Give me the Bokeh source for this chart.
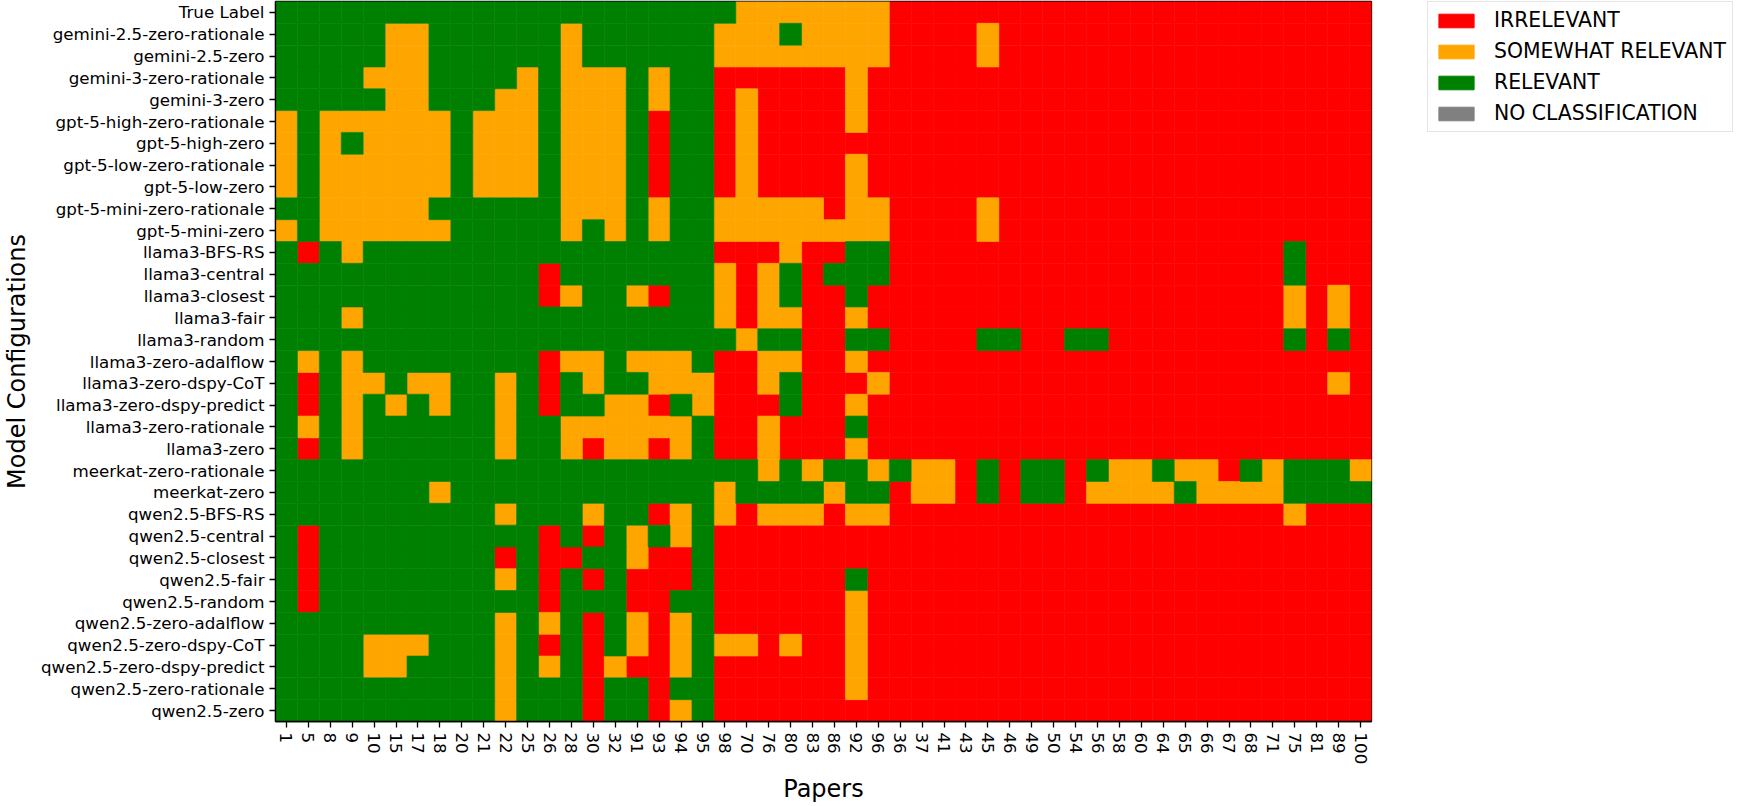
from bokeh.plotting import figure
from bokeh.models import ColumnDataSource, FactorRange, Legend, LegendItem, Range1d
from bokeh.layouts import row
from bokeh.embed import file_html
from bokeh.resources import INLINE

# ---------------- data ----------------
papers = ["1", "5", "8", "9", "10", "15", "17", "18", "20", "21", "22", "25", "26", "28",
          "30", "32", "91", "93", "94", "95", "98", "70", "76", "80", "83", "86", "92", "96",
          "36", "37", "41", "43", "45", "46", "49", "50", "54", "56", "58", "60", "64", "65",
          "66", "67", "68", "71", "75", "81", "89", "100"]

# codes: G = RELEVANT, O = SOMEWHAT RELEVANT, R = IRRELEVANT, N = NO CLASSIFICATION
true_label_names = ["True Label"]
true_label_rows = [
    "GGGGGGGGGG GGGGGGGGGG GOOOOOOORR RRRRRRRRRR RRRRRRRRRR",
]

gemini_names = ["gemini-2.5-zero-rationale", "gemini-2.5-zero",
                "gemini-3-zero-rationale", "gemini-3-zero"]
gemini_rows = [
    "GGGGGOOGGG GGGOGGGGGG OOOGOOOORR RRORRRRRRR RRRRRRRRRR",
    "GGGGGOOGGG GGGOGGGGGG OOOOOOOORR RRORRRRRRR RRRRRRRRRR",
    "GGGGOOOGGG GOGOOOGOGG RRRRRRORRR RRRRRRRRRR RRRRRRRRRR",
    "GGGGGOOGGG OOGOOOGOGG RORRRRORRR RRRRRRRRRR RRRRRRRRRR",
]

gpt5_names = ["gpt-5-high-zero-rationale", "gpt-5-high-zero",
              "gpt-5-low-zero-rationale", "gpt-5-low-zero",
              "gpt-5-mini-zero-rationale", "gpt-5-mini-zero"]
gpt5_rows = [
    "OGOOOOOOGO OOGOOOGRGG RORRRRORRR RRRRRRRRRR RRRRRRRRRR",
    "OGOGOOOOGO OOGOOOGRGG RORRRRRRRR RRRRRRRRRR RRRRRRRRRR",
    "OGOOOOOOGO OOGOOOGRGG RORRRRORRR RRRRRRRRRR RRRRRRRRRR",
    "OGOOOOOOGO OOGOOOGRGG RORRRRORRR RRRRRRRRRR RRRRRRRRRR",
    "GGOOOOOGGG GGGOOOGOGG OOOOOROORR RRORRRRRRR RRRRRRRRRR",
    "OGOOOOOOGG GGGOGOGOGG OOOOOOOORR RRORRRRRRR RRRRRRRRRR",
]

llama3_names = ["llama3-BFS-RS", "llama3-central", "llama3-closest", "llama3-fair",
                "llama3-random", "llama3-zero-adalflow", "llama3-zero-dspy-CoT",
                "llama3-zero-dspy-predict", "llama3-zero-rationale", "llama3-zero"]
llama3_rows = [
    "GRGOGGGGGG GGGGGGGGGG RRRORRGGRR RRRRRRRRRR RRRRRRGRRR",
    "GGGGGGGGGG GGRGGGGGGG OROGRGGGRR RRRRRRRRRR RRRRRRGRRR",
    "GGGGGGGGGG GGROGGORGG OROGRRGRRR RRRRRRRRRR RRRRRROROR",
    "GGGOGGGGGG GGGGGGGGGG OROORRORRR RRRRRRRRRR RRRRRROROR",
    "GGGGGGGGGG GGGGGGGGGG GOGGRRGGRR RRGGRRGGRR RRRRRRGRGR",
    "GOGOGGGGGG GGROOGOOOG RROORRORRR RRRRRRRRRR RRRRRRRRRR",
    "GRGOOGOOGG OGRGOGGOOO RROGRRRORR RRRRRRRRRR RRRRRRRROR",
    "GRGOGOGOGG OGRGGOORGO RRRGRRORRR RRRRRRRRRR RRRRRRRRRR",
    "GOGOGGGGGG OGGOOOOOOG RRORRRGRRR RRRRRRRRRR RRRRRRRRRR",
    "GRGOGGGGGG OGGOROOROG RRORRRORRR RRRRRRRRRR RRRRRRRRRR",
]

meerkat_names = ["meerkat-zero-rationale", "meerkat-zero"]
meerkat_rows = [
    "GGGGGGGGGG GGGGGGGGGG GGOGOGGOGO ORGRGGRGOO GOORGOGGGO",
    "GGGGGGGOGG GGGGGGGGGG OGGGGOGGRO ORGRGGROOO OGOOOOGGGG",
]

qwen_names = ["qwen2.5-BFS-RS", "qwen2.5-central", "qwen2.5-closest", "qwen2.5-fair",
              "qwen2.5-random", "qwen2.5-zero-adalflow", "qwen2.5-zero-dspy-CoT",
              "qwen2.5-zero-dspy-predict", "qwen2.5-zero-rationale", "qwen2.5-zero"]
qwen_rows = [
    "GGGGGGGGGG OGGGOGGROG OROOOROORR RRRRRRRRRR RRRRRRORRR",
    "GRGGGGGGGG GGRGRGOGOG RRRRRRRRRR RRRRRRRRRR RRRRRRRRRR",
    "GRGGGGGGGG RGRRGGORRG RRRRRRRRRR RRRRRRRRRR RRRRRRRRRR",
    "GRGGGGGGGG OGRGRGRRRG RRRRRRGRRR RRRRRRRRRR RRRRRRRRRR",
    "GRGGGGGGGG GGRGGGRRGG RRRRRRORRR RRRRRRRRRR RRRRRRRRRR",
    "GGGGGGGGGG OGOGRGOROG RRRRRRORRR RRRRRRRRRR RRRRRRRRRR",
    "GGGGOOOGGG OGRGRGOROG OORORRORRR RRRRRRRRRR RRRRRRRRRR",
    "GGGGOOGGGG OGOGRORROG RRRRRRORRR RRRRRRRRRR RRRRRRRRRR",
    "GGGGGGGGGG OGGGRGGRGG RRRRRRORRR RRRRRRRRRR RRRRRRRRRR",
    "GGGGGGGGGG OGGGRGGROG RRRRRRRRRR RRRRRRRRRR RRRRRRRRRR",
]

categories = ["IRRELEVANT", "SOMEWHAT RELEVANT", "RELEVANT", "NO CLASSIFICATION"]
codes = ["R", "O", "G", "N"]
colors = ["#ff0000", "#ffa500", "#008000", "#808080"]

# ---------------- build ----------------
configs = true_label_names + gemini_names + gpt5_names + llama3_names + meerkat_names + qwen_names
rows = true_label_rows + gemini_rows + gpt5_rows + llama3_rows + meerkat_rows + qwen_rows
rows = [r.replace(" ", "") for r in rows]

cells = {c: {"paper": [], "config": []} for c in codes}
for name, row_codes in zip(configs, rows):
    for paper, code in zip(papers, row_codes):
        cells[code]["paper"].append(paper)
        cells[code]["config"].append(name)

FONT = "DejaVu Sans"
TOTAL_W = 1740
H = 806
MAIN_W = 1427
FRAME_RIGHT = 1371

p = figure(width=MAIN_W, height=H,
           x_range=FactorRange(factors=papers),
           y_range=FactorRange(factors=list(reversed(configs))),
           output_backend="svg", toolbar_location=None,
           min_border_left=271, min_border_right=MAIN_W - FRAME_RIGHT,
           min_border_top=1, min_border_bottom=70)

for code, col in zip(codes, colors):
    src = ColumnDataSource(cells[code])
    p.rect(x="paper", y="config", width=1, height=1, source=src,
           fill_color=col, line_color=col, line_width=0.6)

p.xgrid.visible = False
p.ygrid.visible = False
p.outline_line_color = "black"
p.outline_line_width = 1.3
p.outline_line_alpha = 1.0
p.background_fill_color = "white"
p.border_fill_color = "white"

for ax in (p.xaxis[0], p.yaxis[0]):
    ax.major_label_text_font = FONT
    ax.major_label_text_font_size = "16.7px"
    ax.major_label_text_color = "black"
    ax.axis_label_text_font = FONT
    ax.axis_label_text_font_size = "24px"
    ax.axis_label_text_font_style = "normal"
    ax.axis_label_text_color = "black"
    ax.major_tick_out = 6
    ax.major_tick_in = 0
    ax.major_tick_line_color = "black"
    ax.major_tick_line_width = 1.3
    ax.axis_line_color = "black"
    ax.axis_line_width = 1.3
    ax.minor_tick_line_color = None
    ax.major_label_standoff = 5

p.xaxis.axis_label = "Papers"
p.yaxis.axis_label = "Model Configurations"
p.xaxis.major_label_orientation = "vertical"
p.xaxis.axis_label_standoff = 8
p.xaxis.axis_label_text_line_height = 0.8
p.yaxis.axis_label_standoff = 7

# ---------------- legend (separate small figure to the right) ----------------
lg = figure(width=TOTAL_W - MAIN_W, height=H,
            x_range=Range1d(0, 1), y_range=Range1d(0, 1),
            output_backend="svg", toolbar_location=None,
            x_axis_location=None, y_axis_location=None,
            min_border=0, outline_line_color=None)
lg.xgrid.visible = False
lg.ygrid.visible = False
leg_renderers = []
for col in colors:
    # one off-screen point per class so that the legend swatch can be drawn
    r = lg.rect(x=[-5], y=[-5], width=1, height=1, fill_color=col, line_color=col)
    leg_renderers.append(r)

legend = Legend(
    items=[LegendItem(label=cat, renderers=[r]) for cat, r in zip(categories, leg_renderers)],
    location="top_left",
    orientation="vertical",
    label_text_font=FONT,
    label_text_font_size="20.4px",
    label_text_color="black",
    label_standoff=16,
    label_height=24,
    glyph_width=44,
    glyph_height=17,
    spacing=7,
    padding=6,
    margin=0,
    border_line_color="#cccccc",
    border_line_width=1.3,
    background_fill_color="white",
    background_fill_alpha=1.0,
)
lg.add_layout(legend)

layout = row(p, lg)
open("out.html", "w").write(file_html(layout, INLINE))
